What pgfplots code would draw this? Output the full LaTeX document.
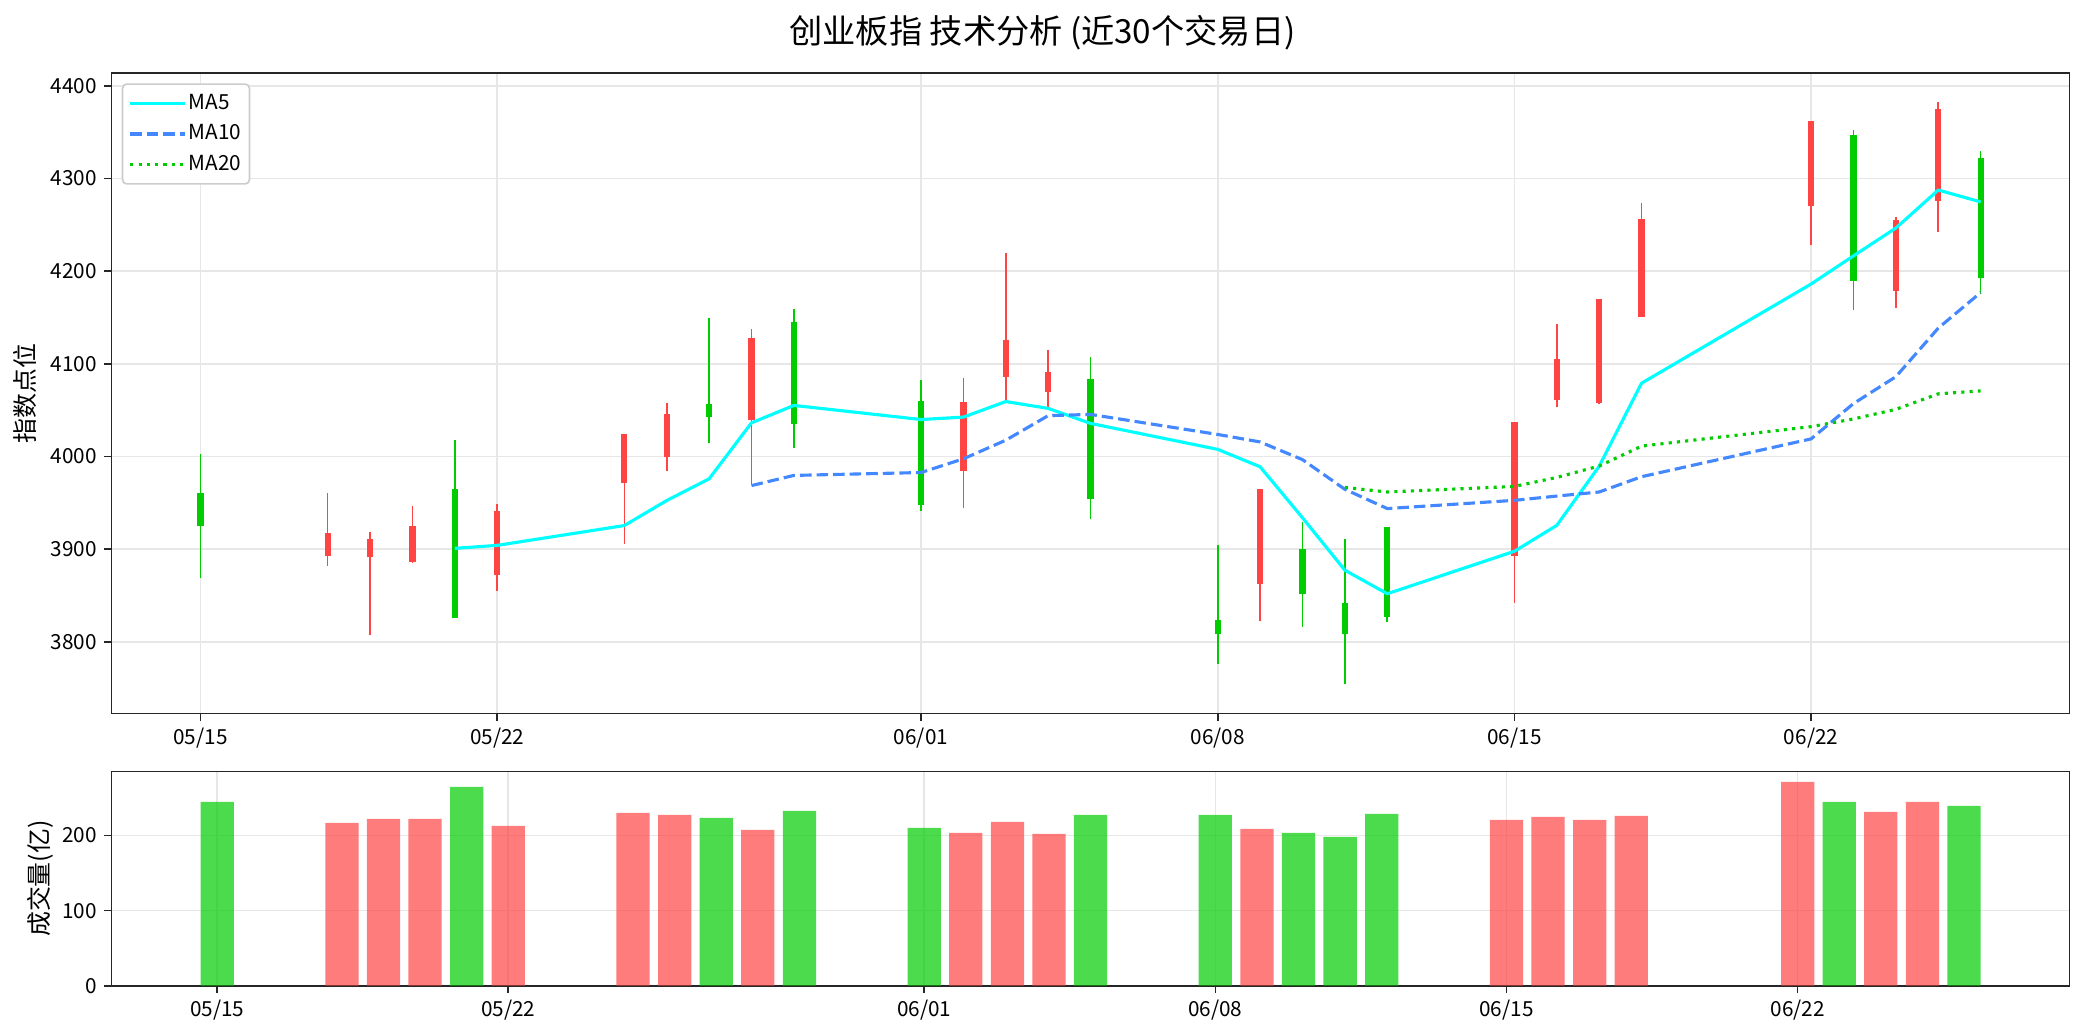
\documentclass[border=0pt]{standalone}
\usepackage{pgfplots}
\pgfplotsset{compat=1.18}
\usepackage{pgfplotstable}
\usepackage{fontspec}
\setmainfont{Noto Sans CJK SC}
\definecolor{upred}{HTML}{FF4444}
\definecolor{dngreen}{HTML}{00CC00}
\definecolor{maten}{HTML}{4488FF}
\definecolor{mafive}{HTML}{00FFFF}
\definecolor{gridc}{HTML}{E7E7E7}
\definecolor{spine}{HTML}{262626}
\definecolor{legc}{HTML}{CCCCCC}

% x = trading day offset from 05/15
\pgfplotstableread{
x o c h l
3 3892 3917 3961 3882
4 3891 3911 3918 3807
5 3886 3925 3947 3885
7 3872 3941 3949 3855
10 3971 4024 4024 3905
11 3999 4046 4058 3984
13 4039 4128 4137 3969
18 3984 4059 4085 3944
19 4086 4126 4219 4061
20 4069 4091 4115 4052
25 3862 3965 3965 3822
31 3893 4037 4037 3842
32 4061 4105 4143 4053
33 4058 4170 4170 4057
34 4150 4256 4273 4150
38 4270 4362 4362 4228
40 4179 4255 4258 4160
41 4276 4375 4382 4242
}\upcandles
\pgfplotstableread{
x o c h l
0 3960 3925 4003 3869
6 3965 3826 4018 3826
12 4057 4042 4149 4014
14 4145 4035 4159 4009
17 4060 3948 4082 3941
21 4083 3954 4107 3932
24 3823 3808 3904 3776
26 3900 3851 3929 3816
27 3842 3808 3911 3754
28 3924 3827 3924 3821
39 4347 4189 4352 4158
42 4322 4192 4330 4175
}\dncandles
\pgfplotstableread{
x v
6 3900.8
7 3904.0
10 3925.4
11 3952.4
12 3975.8
13 4036.2
14 4055.0
17 4039.8
18 4042.4
19 4059.2
20 4051.8
21 4035.6
24 4007.6
25 3988.8
26 3933.8
27 3877.2
28 3851.8
31 3897.6
32 3925.6
33 3989.4
34 4079.0
38 4186.0
39 4216.4
40 4246.4
41 4287.4
42 4274.6
}\mafivetab
\pgfplotstableread{
x v
13 3968.5
14 3979.5
17 3982.6
18 3997.4
19 4017.5
20 4044.0
21 4045.3
24 4023.7
25 4015.6
26 3996.5
27 3964.5
28 3943.7
31 3952.6
32 3957.2
33 3961.6
34 3978.1
38 4018.9
39 4057.0
40 4086.0
41 4138.4
42 4176.8
}\matentab
\pgfplotstableread{
x v
27 3966.5
28 3961.6
31 3967.6
32 3977.3
33 3989.6
34 4011.1
38 4032.1
39 4040.4
40 4050.8
41 4067.5
42 4070.7
}\matwentytab
\pgfplotstableread{
x v
3 216.9
4 222.2
5 222.2
7 212.9
10 230.2
11 227.6
13 207.6
18 203.6
19 218.2
20 202.2
25 208.9
31 220.9
32 224.9
33 220.9
34 226.2
38 271.6
40 231.6
41 244.9
}\volup
\pgfplotstableread{
x v
0 244.9
6 264.9
12 223.6
14 232.9
17 210.2
21 227.6
24 227.6
26 203.6
27 198.2
28 228.9
39 244.9
42 239.6
}\voldn

\pgfplotsset{
  common/.style={
    scale only axis, width=939.9bp,
    anchor=south west,
    grid=major, grid style={line width=0.8bp, color=gridc},
    axis line style={line width=0.8bp, color=spine},
    tick style={line width=0.8bp, color=spine},
    major tick length=3.5bp, tick align=outside,
    xtick pos=bottom, ytick pos=left,
    xtick={0,7,17,24,31,38},
    xticklabels={05/15,05/22,06/01,06/08,06/15,06/22},
    ticklabel style={font=\fontsize{10}{12}\selectfont},
    /pgf/number format/assume math mode=true,
    /pgf/number format/1000 sep={},
  },
  wick/.style={draw=none, mark=none,
    error bars/.cd, y dir=plus, y explicit, error mark=none,
    error bar style={draw=#1, line width=0.8bp, solid}},
  body/.style={draw=none, mark=none,
    error bars/.cd, y dir=plus, y explicit, error mark=none,
    error bar style={draw=#1, line width=3bp, solid}},
}

\begin{document}
\begin{tikzpicture}
\path[use as bounding box] (0,0) rectangle (1000.8bp,497.28bp);

\node[font=\fontsize{16}{19}\selectfont] at (500.4bp,481.4bp) {创业板指 技术分析 (近30个交易日)};

\begin{axis}[common,
  at={(53.52bp,154.8bp)}, height=307.3bp,
  xmin=-2.1, xmax=44.1, ymin=3722.6, ymax=4413.4,
  ytick={3800,3900,4000,4100,4200,4300,4400},
  ylabel={指数点位},
  ylabel style={at={(axis description cs:-0.0442,0.5)}, anchor=center, font=\fontsize{12}{14}\selectfont},
  legend style={at={(axis description cs:0,1)}, anchor=north west,
    xshift=4.9bp, yshift=-4.8bp, draw=legc, line width=0.8bp,
    rounded corners=2bp, fill=white, inner xsep=3bp, inner ysep=3.5bp,
    font=\fontsize{10}{12}\selectfont, row sep=3.2bp,
    nodes={inner sep=1bp, text height=7.5bp, text depth=2bp},
    cells={anchor=west}},
  legend image code/.code={\draw[#1] (0bp,0bp) -- (21.6bp,0bp); \path (0bp,0bp) -- (26.2bp,0bp);},
]
\addplot[forget plot, wick=upred] table[x=x, y=l, y error expr=\thisrow{h}-\thisrow{l}] {\upcandles};
\addplot[forget plot, body=upred] table[x=x, y=o, y error expr=\thisrow{c}-\thisrow{o}] {\upcandles};
\addplot[forget plot, wick=dngreen] table[x=x, y=l, y error expr=\thisrow{h}-\thisrow{l}] {\dncandles};
\addplot[forget plot, body=dngreen] table[x=x, y=c, y error expr=\thisrow{o}-\thisrow{c}] {\dncandles};
\addplot[color=mafive, line width=1.5bp, line join=round] table[x=x, y=v] {\mafivetab};
\addlegendentry{MA5}
\addplot[color=maten, line width=1.5bp, dash pattern=on 5.55bp off 2.4bp] table[x=x, y=v] {\matentab};
\addlegendentry{MA10}
\addplot[color=dngreen, line width=1.5bp, dash pattern=on 1.5bp off 2.475bp] table[x=x, y=v] {\matwentytab};
\addlegendentry{MA20}
\end{axis}

\begin{axis}[common,
  at={(53.52bp,24.14bp)}, height=102.8bp,
  xmin=-2.54, xmax=44.54, ymin=0, ymax=285.2,
  ytick={0,100,200},
  ylabel={成交量(亿)},
  ylabel style={at={(axis description cs:-0.0365,0.5)}, anchor=center, font=\fontsize{12}{14}\selectfont},
]
\addplot[ybar, bar width=0.8, bar shift=0pt, draw=none, fill=upred, fill opacity=0.7] table[x=x, y=v] {\volup};
\addplot[ybar, bar width=0.8, bar shift=0pt, draw=none, fill=dngreen, fill opacity=0.7] table[x=x, y=v] {\voldn};
\end{axis}
\end{tikzpicture}
\end{document}
